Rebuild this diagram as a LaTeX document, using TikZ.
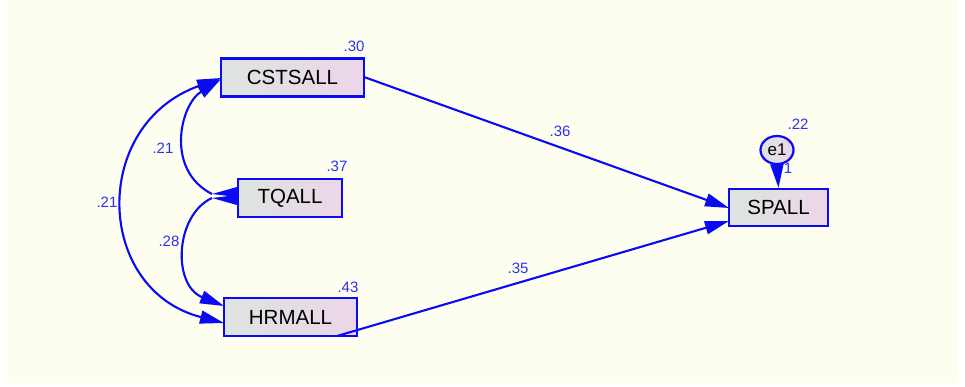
\documentclass[tikz,border=0pt]{standalone}
\usepackage{fontspec}
\setmainfont{Liberation Sans}
\usetikzlibrary{arrows.meta,shapes.geometric}
\definecolor{paper}{HTML}{FDFEF0}
\definecolor{pathblue}{HTML}{0A0AF5}
\definecolor{labelblue}{HTML}{3030F0}
\definecolor{boxL}{HTML}{DDE4E0}
\definecolor{boxR}{HTML}{ECD6E8}
\tikzset{
  amosTip/.tip={Triangle[length=24pt,width=13pt]},
  var/.style={draw=pathblue, line width=2.2pt, left color=boxL, right color=boxR,
    minimum height=38pt, inner sep=0pt, font=\fontsize{20.5}{20.5}\selectfont, text=black},
  err/.style={ellipse, draw=pathblue, line width=2.2pt, left color=boxL, right color=boxR,
    minimum width=33pt, minimum height=28pt, inner sep=0pt, font=\fontsize{17}{17}\selectfont},
  est/.style={text=labelblue, font=\fontsize{15}{15}\selectfont, inner sep=0pt},
  path/.style={draw=pathblue, line width=2.1pt, -{amosTip}},
  cov/.style={draw=pathblue, line width=2.1pt, {amosTip}-{amosTip}},
  covhalf/.style={draw=pathblue, line width=2.1pt, {amosTip}-}
}
\begin{document}
\begin{tikzpicture}[x=1pt,y=-1pt]
  \fill[white] (0,0) rectangle (965,386);
  \fill[paper] (7,0) rectangle (958,383);
  \useasboundingbox (0,0) rectangle (965,386);

  % observed variables
  \node[var, minimum width=143pt] (C) at (292.5,77.5) {CSTSALL};
  \node[var, minimum width=104pt] (T) at (290,198) {TQALL};
  \node[var, minimum width=133pt] (H) at (290.5,317) {HRMALL};
  \node[var, minimum width=99pt, minimum height=37pt] (S) at (778.5,207.5) {SPALL};
  \node[err] (e1) at (777,150) {e1};

  % squared multiple correlations
  \node[est] (r1) at (354,46) {.30};
  \node[est] (r2) at (337,166) {.37};
  \node[est] (r3) at (348,287) {.43};
  \node[est] (r4) at (798,124) {.22};

  % connector end points
  \coordinate (cL1) at (221,79);
  \coordinate (cL2) at (221,78);
  \coordinate (tW1) at (212,194);
  \coordinate (tW2) at (212,198);
  \coordinate (hL1) at (224,306);
  \coordinate (hL2) at (224,323);
  \coordinate (cR) at (364,77);
  \coordinate (hB) at (337,336);
  \coordinate (sL1) at (729,208);
  \coordinate (sL2) at (729,221);

  % regression paths
  \draw[path] (cR) -- (sL1);
  \draw[path] (hB) -- (sL2);
  \draw[path] (e1.south) -- (S.north);

  % covariances
  \draw[covhalf] (cL1) .. controls (180,105) and (165,170) .. (tW1);
  \draw[covhalf] (hL1) .. controls (172,285) and (175,215) .. (tW2);
  \draw[cov] (cL2) .. controls (90,125) and (95,290) .. (hL2);

  % flattened heads where both covariances meet TQALL
  \fill[pathblue] (T.west |- 0,187) -- (T.west |- 0,197) -- (tW1) -- cycle;
  \fill[pathblue] (T.west |- 0,195) -- (T.west |- 0,205) -- (tW2) -- cycle;

  % path coefficients
  \node[est] (b1) at (560,131) {.36};
  \node[est] (b2) at (518,268) {.35};
  \node[est] (k1) at (163,148) {.21};
  \node[est] (k2) at (107,202) {.21};
  \node[est] (k3) at (169,241) {.28};
  \node[est] (w1) at (788,168) {1};
\end{tikzpicture}
\end{document}
